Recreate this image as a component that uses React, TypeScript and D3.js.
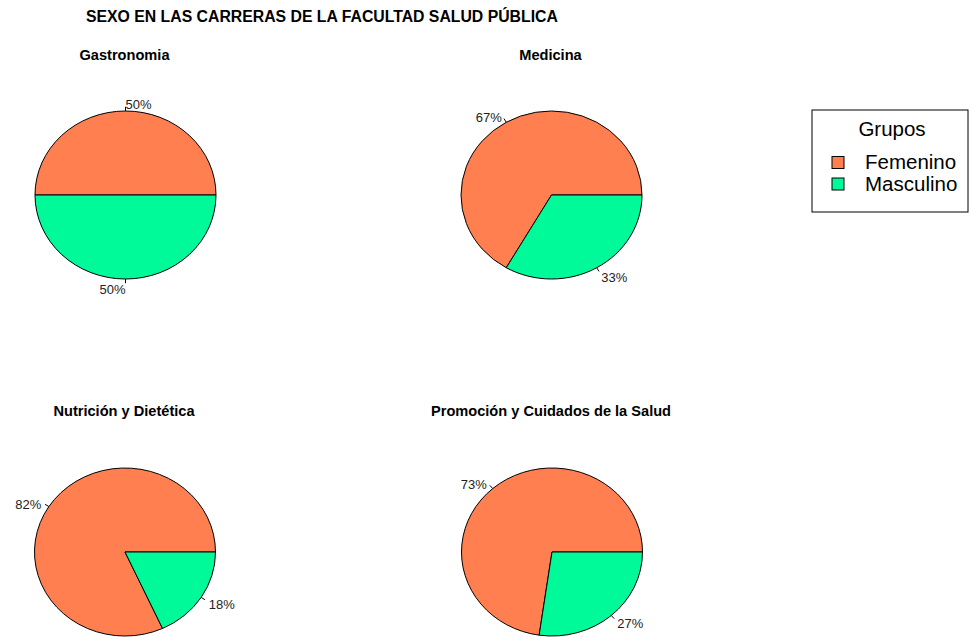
import React from "react";
import * as d3 from "d3";

const mainTitle = "SEXO EN LAS CARRERAS DE LA FACULTAD SALUD PÚBLICA";
const carreras = ["Gastronomia", "Medicina", "Nutrición y Dietética", "Promoción y Cuidados de la Salud"];
const grupos = ["Femenino", "Masculino"];
const femenino = [1, 2, 9, 8];
const masculino = [1, 1, 2, 3];
const colores = ["#FF7F50", "#00FA9A"];

const W = 971;
const H = 637;
const RX = 90.5;
const RY = 84;
const centers: [number, number][] = [
  [125.5, 195],
  [551.5, 195],
  [125, 552],
  [552, 552],
];
const titleY = [60, 60, 416, 416];

function Pie({ idx }: { idx: number }) {
  const vals = [femenino[idx], masculino[idx]];
  const total = d3.sum(vals);
  const [cx, cy] = centers[idx];
  const arc = d3.arc<any>().innerRadius(0).outerRadius(1);
  let acc = 0;
  const slices = vals.map((v, i) => {
    const t0 = (acc / total) * 2 * Math.PI;
    acc += v;
    const t1 = (acc / total) * 2 * Math.PI;
    return { v, i, t0, t1 };
  });
  return (
    <g>
      <text x={cx - 1} y={titleY[idx]} textAnchor="middle" fontWeight="bold" fontSize={14.6} fontFamily="Liberation Sans, Arial, sans-serif">
        {carreras[idx]}
      </text>
      <g transform={`translate(${cx},${cy}) scale(${RX},${RY})`}>
        {slices.map((s) => (
          <path
            key={s.i}
            d={arc({ startAngle: Math.PI / 2 - s.t0, endAngle: Math.PI / 2 - s.t1 }) || ""}
            fill={colores[s.i]}
            stroke="#000"
            strokeWidth={1}
            vectorEffect="non-scaling-stroke"
          />
        ))}
      </g>
      {slices.map((s) => {
        const tm = (s.t0 + s.t1) / 2;
        const c = Math.cos(tm);
        const sn = Math.sin(tm);
        const x1 = cx + RX * c, y1 = cy - RY * sn;
        const x2 = cx + 1.05 * RX * c, y2 = cy - 1.05 * RY * sn;
        const xt = cx + 1.1 * RX * c, yt = cy - 1.1 * RY * sn;
        const anchor = c < -1e-9 || (Math.abs(c) < 1e-9 && sn < 0) ? "end" : "start";
        const pct = Math.round((s.v / total) * 100) + "%";
        return (
          <g key={"l" + s.i}>
            <line x1={x1} y1={y1} x2={x2} y2={y2} stroke="#000" strokeWidth={1} />
            <text x={xt} y={yt + 2} dy="0.35em" textAnchor={anchor} fontSize={13} fill="#222" fontFamily="Liberation Sans, Arial, sans-serif">
              {pct}
            </text>
          </g>
        );
      })}
    </g>
  );
}

export default function App() {
  return (
    <svg width={W} height={H} style={{ position: "absolute", left: 0, top: 0, background: "#fff" }}>
      <rect x={0} y={0} width={W} height={H} fill="#fff" />
      <text x={86} y={22} fontWeight="bold" fontSize={15.8} fontFamily="Liberation Sans, Arial, sans-serif">
        {mainTitle}
      </text>
      {carreras.map((_, i) => (
        <Pie key={i} idx={i} />
      ))}
      <g fontFamily="Liberation Sans, Arial, sans-serif">
        <rect x={812} y={110} width={156} height={102} fill="#fff" stroke="#000" strokeWidth={1} />
        <text x={892} y={136} textAnchor="middle" fontSize={20.5}>Grupos</text>
        {grupos.map((g, i) => (
          <g key={g}>
            <rect x={832} y={156.5 + i * 21.5} width={12} height={12} fill={colores[i]} stroke="#000" strokeWidth={1} />
            <text x={865} y={169 + i * 21.5} fontSize={20.5}>{g}</text>
          </g>
        ))}
      </g>
    </svg>
  );
}
